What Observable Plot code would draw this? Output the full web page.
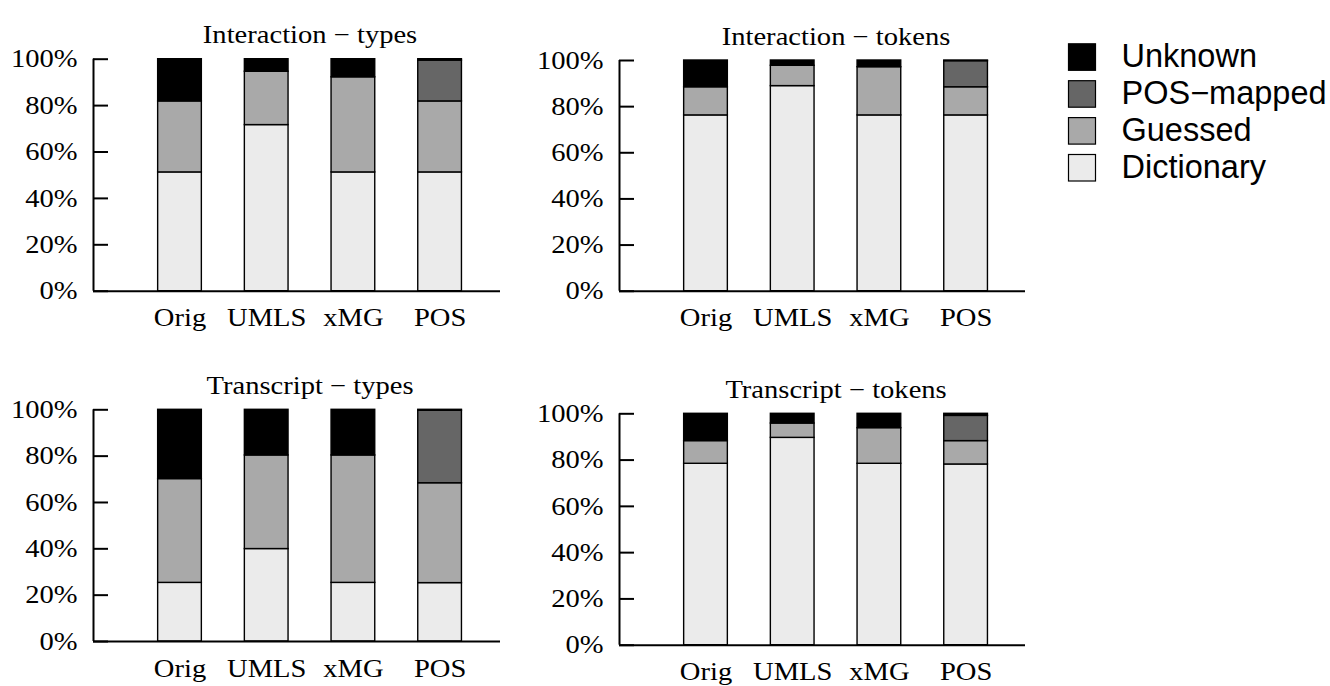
<!DOCTYPE html>
<html>
<head>
<meta charset="utf-8">
<script src="https://cdn.jsdelivr.net/npm/d3@7"></script>
<script src="https://cdn.jsdelivr.net/npm/@observablehq/plot@0.6"></script>
<style>
  html, body { margin: 0; padding: 0; background: #fff; }
  #root { position: relative; width: 1330px; height: 686px; overflow: hidden; }
  .panel { position: absolute; }
</style>
</head>
<body>
<div id="root"></div>
<script>
// ---------- data ----------
const categories = ["Orig", "UMLS", "xMG", "POS"];
const segments = ["Dictionary", "Guessed", "POS\u2212mapped", "Unknown"];
const legendOrder = ["Unknown", "POS\u2212mapped", "Guessed", "Dictionary"];
const segmentColors = ["#ebebeb", "#a9a9a9", "#666666", "#000000"];
const yTicks = [0, 20, 40, 60, 80, 100];
const titles = ["Interaction \u2212 types", "Interaction \u2212 tokens", "Transcript \u2212 types", "Transcript \u2212 tokens"];

// Interaction – types (percent per segment)
const intTypesDictionary = [51.2, 71.6, 51.2, 51.2];
const intTypesGuessed    = [30.6, 23.0, 41.0, 30.6];
const intTypesPosMapped  = [0, 0, 0, 17.6];
const intTypesUnknown    = [18.2, 5.4, 7.8, 0.6];

// Interaction – tokens
const intTokensDictionary = [76.2, 88.9, 76.2, 76.2];
const intTokensGuessed    = [12.2, 8.8, 20.9, 12.2];
const intTokensPosMapped  = [0, 0, 0, 11.3];
const intTokensUnknown    = [11.6, 2.3, 2.9, 0.3];

// Transcript – types
const trTypesDictionary = [25.3, 39.9, 25.3, 25.2];
const trTypesGuessed    = [44.8, 40.4, 55.0, 43.1];
const trTypesPosMapped  = [0, 0, 0, 31.3];
const trTypesUnknown    = [29.9, 19.7, 19.7, 0.4];

// Transcript – tokens
const trTokensDictionary = [78.4, 89.6, 78.4, 78.1];
const trTokensGuessed    = [9.8, 6.2, 15.4, 10.1];
const trTokensPosMapped  = [0, 0, 0, 10.9];
const trTokensUnknown    = [11.8, 4.2, 6.2, 0.9];

const panelSeries = [
  [intTypesDictionary, intTypesGuessed, intTypesPosMapped, intTypesUnknown],
  [intTokensDictionary, intTokensGuessed, intTokensPosMapped, intTokensUnknown],
  [trTypesDictionary, trTypesGuessed, trTypesPosMapped, trTypesUnknown],
  [trTokensDictionary, trTokensGuessed, trTokensPosMapped, trTokensUnknown]
];

// ---------- layout ----------
const layouts = [
  {left: 0,   top: 0,   width: 510, height: 340, axisX: 93,  y100: 58.7,  y0: 290.7, axisRight: 500,  firstCenter: 179.5},
  {left: 520, top: 0,   width: 510, height: 340, axisX: 619, y100: 60,    y0: 290.7, axisRight: 1025, firstCenter: 705.5},
  {left: 0,   top: 340, width: 510, height: 346, axisX: 93,  y100: 409.3, y0: 641,   axisRight: 500,  firstCenter: 179.5},
  {left: 520, top: 340, width: 510, height: 346, axisX: 619, y100: 413.3, y0: 644.7, axisRight: 1025, firstCenter: 705.5}
];
const spacing = 86.7;
const halfBar = 0.252;
const STRETCH = 1.12;

function buildRows(series) {
  const rows = [];
  categories.forEach((cat, i) => {
    let acc = 0;
    segments.forEach((seg, s) => {
      const v = series[s][i];
      if (v > 0) rows.push({category: cat, segment: seg, x1: i - halfBar, x2: i + halfBar, y1: acc, y2: acc + v});
      acc += v;
    });
  });
  return rows;
}

function stretchText(svg) {
  svg.querySelectorAll("text").forEach(t => {
    const targets = t.querySelectorAll("tspan").length ? t.querySelectorAll("tspan") : [t];
    targets.forEach(el => {
      const len = el.getComputedTextLength();
      if (len > 0) {
        el.setAttribute("textLength", (len * STRETCH).toFixed(2));
        el.setAttribute("lengthAdjust", "spacingAndGlyphs");
      }
    });
  });
}

const root = document.getElementById("root");

layouts.forEach((L, p) => {
  const rows = buildRows(panelSeries[p]);
  const xd0 = (L.axisX - L.firstCenter) / spacing;
  const xd1 = (L.axisRight - L.firstCenter) / spacing;
  const chart = Plot.plot({
    width: L.width,
    height: L.height,
    marginLeft: L.axisX - L.left,
    marginRight: L.left + L.width - L.axisRight,
    marginTop: L.y100 - L.top,
    marginBottom: L.top + L.height - L.y0,
    style: {fontFamily: "'Liberation Serif', 'Times New Roman', serif", fontSize: "25.5px", background: "transparent", overflow: "visible", color: "#000"},
    x: {type: "linear", domain: [xd0, xd1]},
    y: {domain: [0, 100]},
    color: {domain: segments, range: segmentColors},
    marks: [
      Plot.rectY(rows, {x1: "x1", x2: "x2", y1: "y1", y2: "y2", fill: "segment", stroke: "#000", strokeWidth: 1.4}),
      Plot.ruleY([0], {strokeWidth: 2}),
      Plot.ruleX([xd0], {strokeWidth: 2}),
      Plot.axisY({ticks: yTicks, tickFormat: d => d + "%", tickSize: -15, tickPadding: 31, strokeWidth: 2, fontSize: 25.5}),
      Plot.axisX({ticks: [0, 1, 2, 3], tickFormat: i => categories[i], tickSize: 0, tickPadding: 17, fontSize: 25.5}),
      Plot.text([{t: titles[p], x: 1.5}], {x: "x", text: "t", frameAnchor: "top", dy: -34, fontSize: 25.5, textAnchor: "middle"})
    ]
  });
  chart.classList.add("panel");
  chart.style.left = L.left + "px";
  chart.style.top = L.top + "px";
  root.appendChild(chart);
  stretchText(chart);
});

// ---------- legend ----------
const lg = d3.select(root).append("svg")
  .attr("class", "panel")
  .style("left", "1050px").style("top", "30px")
  .attr("width", 280).attr("height", 170);
legendOrder.forEach((name, k) => {
  const g = lg.append("g").attr("transform", `translate(0, ${13.3 + k * 36.9})`);
  g.append("rect").attr("x", 18.5).attr("y", 0.5).attr("width", 27).attr("height", 26.5)
    .attr("fill", segmentColors[segments.indexOf(name)]).attr("stroke", "#000").attr("stroke-width", 1.2);
  g.append("text").attr("x", 71.5).attr("y", 23.5)
    .style("font-family", "'Liberation Sans', Arial, sans-serif").style("font-size", "32.5px")
    .attr("fill", "#000").text(name);
});
</script>
</body>
</html>
